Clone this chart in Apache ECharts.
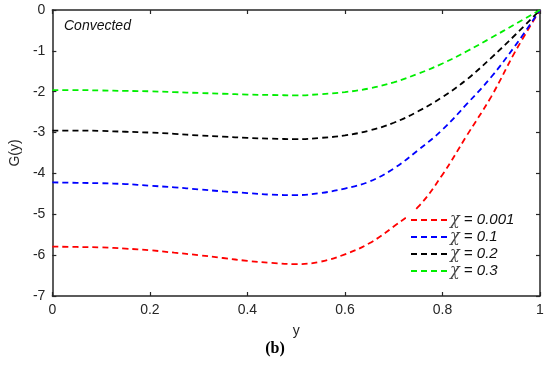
<!DOCTYPE html>
<html><head><meta charset="utf-8">
<script src="https://cdn.jsdelivr.net/npm/echarts@6/dist/echarts.min.js"></script>
<style>html,body{margin:0;padding:0;background:#fff}#c{width:550px;height:368px}</style>
</head><body><div id="c"></div>
<script>
const xTicks = [0, 0.2, 0.4, 0.6, 0.8, 1];
const yTicks = [0, -1, -2, -3, -4, -5, -6, -7];
const seriesNames = ['0.001', '0.1', '0.2', '0.3'];
const xValues = [0, 0.05, 0.1, 0.15, 0.2, 0.25, 0.3, 0.35, 0.4, 0.45, 0.5, 0.55, 0.6, 0.65, 0.7, 0.75, 0.8, 0.85, 0.9, 0.95, 1];
const redY   = [-5.79, -5.80, -5.81, -5.84, -5.88, -5.94, -6.00, -6.07, -6.14, -6.19, -6.22, -6.16, -5.98, -5.71, -5.30, -4.82, -4.03, -3.07, -2.12, -1.00, 0];
const blueY  = [-4.22, -4.23, -4.24, -4.26, -4.30, -4.34, -4.39, -4.44, -4.48, -4.52, -4.53, -4.48, -4.37, -4.20, -3.88, -3.43, -2.93, -2.30, -1.64, -0.86, 0];
const blackY = [-2.95, -2.95, -2.96, -2.98, -3.00, -3.03, -3.07, -3.10, -3.13, -3.15, -3.16, -3.13, -3.07, -2.95, -2.76, -2.48, -2.13, -1.70, -1.17, -0.60, 0];
const greenY = [-1.96, -1.96, -1.97, -1.98, -1.99, -2.01, -2.03, -2.05, -2.07, -2.08, -2.09, -2.06, -2.01, -1.92, -1.77, -1.56, -1.31, -1.01, -0.68, -0.34, 0];

const colors = ['#ff0000', '#0000ff', '#000000', '#00ee00'];
const ys = [redY, blueY, blackY, greenY];
const zip = (a, b) => a.map((v, i) => [v, b[i]]);

const chart = echarts.init(document.getElementById('c'));
const axisLine = {show: true, onZero: false, lineStyle: {color: '#262626', width: 1.5}};
const tickStyle = {show: true, inside: true, length: 4, lineStyle: {color: '#262626', width: 1.2}};
const labelFont = {color: '#262626', fontSize: 14, fontFamily: 'Liberation Sans, Arial, sans-serif'};

chart.setOption({
  animation: false,
  backgroundColor: '#fff',
  grid: {left: 51, right: 10, top: 10, bottom: 72},
  xAxis: [{
    type: 'value', min: 0, max: 1, interval: 0.2,
    name: 'y', nameLocation: 'middle', nameGap: 28,
    nameTextStyle: {color: '#262626', fontSize: 14, fontFamily: 'Liberation Sans, Arial, sans-serif'},
    axisLine: axisLine, axisTick: tickStyle, splitLine: {show: false},
    axisLabel: Object.assign({margin: 7, formatter: v => String(+v.toFixed(1))}, labelFont)
  }, {
    type: 'value', position: 'top', min: 0, max: 1, interval: 0.2,
    axisLine: axisLine, axisTick: tickStyle, axisLabel: {show: false}, splitLine: {show: false}
  }],
  yAxis: [{
    type: 'value', min: -7, max: 0, interval: 1,
    name: 'G(y)', nameLocation: 'middle', nameGap: 30,
    nameTextStyle: {color: '#262626', fontSize: 14, fontFamily: 'Liberation Sans, Arial, sans-serif'},
    axisLine: axisLine, axisTick: tickStyle, splitLine: {show: false},
    axisLabel: Object.assign({margin: 7}, labelFont)
  }, {
    type: 'value', position: 'right', min: -7, max: 0, interval: 1,
    axisLine: axisLine, axisTick: tickStyle, axisLabel: {show: false}, splitLine: {show: false}
  }],
  legend: {
    left: 406, top: 210, orient: 'vertical', itemWidth: 38, itemHeight: 14, itemGap: 1,
    backgroundColor: '#fff', padding: [2, 4, 2, 4], itemStyle: {opacity: 0},
    data: seriesNames.map(n => 'χ = ' + n),
    formatter: name => '{chi|χ}{t|' + name.slice(1) + '}',
    textStyle: {
      padding: [0, 0, 0, -4], lineHeight: 14,
      rich: {
        chi: {fontFamily: 'DejaVu Serif, serif', fontStyle: 'italic', fontSize: 16, lineHeight: 14, color: '#444'},
        t: {fontFamily: 'Liberation Sans, Arial, sans-serif', fontStyle: 'italic', fontSize: 15, lineHeight: 14, color: '#111'}
      }
    }
  },
  graphic: [{
    type: 'text', left: 64, top: 19,
    style: {text: 'Convected', fontSize: 14, fontStyle: 'italic', fontFamily: 'Liberation Sans, Arial, sans-serif', fill: '#111'}
  }, {
    type: 'text', left: 'center', top: 341,
    style: {text: '(b)', fontSize: 16, fontWeight: 'bold', fontFamily: 'Liberation Serif, Times New Roman, serif', fill: '#000'}
  }],
  series: seriesNames.map((n, i) => ({
    name: 'χ = ' + n, type: 'line', smooth: 0.4, symbol: 'none', z: 2,
    lineStyle: {color: colors[i], width: 1.8, type: [6, 4]},
    itemStyle: {color: colors[i]},
    data: zip(xValues, ys[i])
  }))
});
</script></body></html>
